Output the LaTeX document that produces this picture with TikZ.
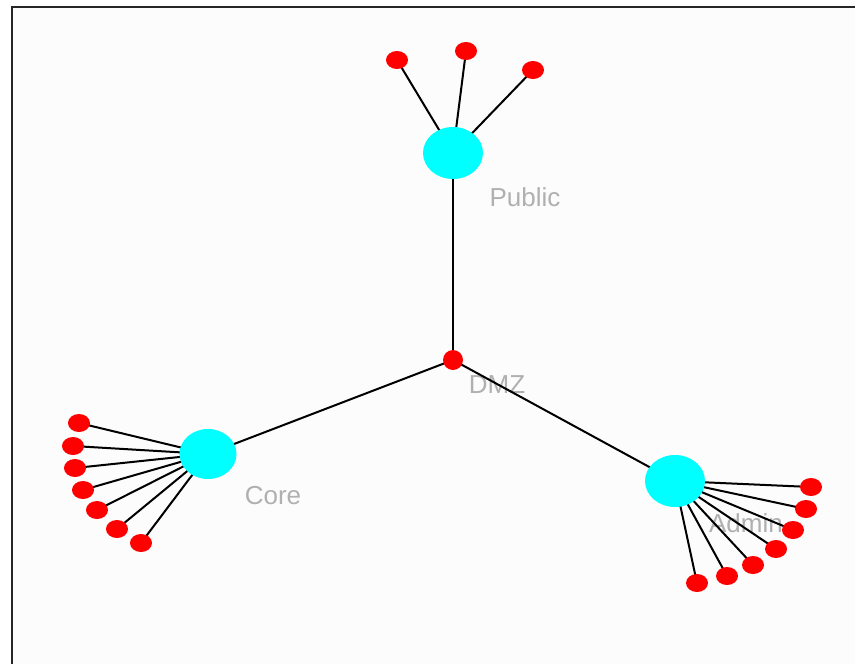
\documentclass[tikz,border=0pt]{standalone}
\usepackage{fontspec}
\setmainfont{Liberation Sans}
\usetikzlibrary{shapes.geometric}
\definecolor{hubcyan}{RGB}{0,255,255}
\definecolor{leafred}{RGB}{255,0,0}
\definecolor{lblgray}{RGB}{176,176,176}
\definecolor{panel}{RGB}{252,252,252}
\pgfdeclarelayer{back}
\pgfdeclarelayer{bg}
\pgfsetlayers{back,bg,main}
\begin{document}
\begin{tikzpicture}[x=1pt,y=-1pt,
  hub/.style={ellipse,fill=hubcyan,draw=none,inner sep=0pt,minimum width=60pt,minimum height=52pt},
  leaf/.style={ellipse,fill=leafred,draw=none,inner sep=0pt,minimum width=22pt,minimum height=18pt},
  dmzdot/.style={circle,fill=leafred,draw=none,inner sep=0pt,minimum size=20pt},
  lbl/.style={text=lblgray,font=\fontsize{26}{26}\selectfont,inner sep=0pt},
  link/.style={draw=black,line width=2pt}]
\useasboundingbox (0,0) rectangle (855,664);
\begin{pgfonlayer}{back}
\fill[white] (0,0) rectangle (855,664);
\fill[panel] (12,7) rectangle (855,664);
\draw[line width=2.2pt,black!85] (12,664) -- (12,7) -- (855,7);
\end{pgfonlayer}
% nodes
\node[dmzdot] (dmz) at (453,360) {};
\node[hub] (pub) at (453,153) {};
\node[hub,minimum width=57pt,minimum height=50pt] (core) at (208,454) {};
\node[hub] (adm) at (675,481) {};
\node[leaf] (p1) at (397,60) {};
\node[leaf] (p2) at (466,51) {};
\node[leaf] (p3) at (533,70) {};
\node[leaf] (c1) at (79,423) {};
\node[leaf] (c2) at (73,446) {};
\node[leaf] (c3) at (75,468) {};
\node[leaf] (c4) at (83,490) {};
\node[leaf] (c5) at (97,510) {};
\node[leaf] (c6) at (117,529) {};
\node[leaf] (c7) at (141,543) {};
\node[leaf] (a1) at (811,487) {};
\node[leaf] (a2) at (806,509) {};
\node[leaf] (a3) at (793,530) {};
\node[leaf] (a4) at (776,549) {};
\node[leaf] (a5) at (753,565) {};
\node[leaf] (a6) at (727,576) {};
\node[leaf] (a7) at (697,583) {};
\begin{pgfonlayer}{bg}
\node[lbl] (lpub) at (525,197) {Public};
\node[lbl] (lcore) at (273,496) {Core};
\node[lbl] (ldmz) at (497,385) {DMZ};
\node[lbl] (ladm) at (746,523) {Admin};
\draw[link] (dmz.center) -- (pub.center);
\draw[link] (dmz.center) -- (core.center);
\draw[link] (dmz.center) -- (adm.center);
\foreach \n in {p1,p2,p3} \draw[link] (pub.center) -- (\n.center);
\foreach \n in {c1,c2,c3,c4,c5,c6,c7} \draw[link] (core.center) -- (\n.center);
\foreach \n in {a1,a2,a3,a4,a5,a6,a7} \draw[link] (adm.center) -- (\n.center);
\end{pgfonlayer}
\end{tikzpicture}
\end{document}
